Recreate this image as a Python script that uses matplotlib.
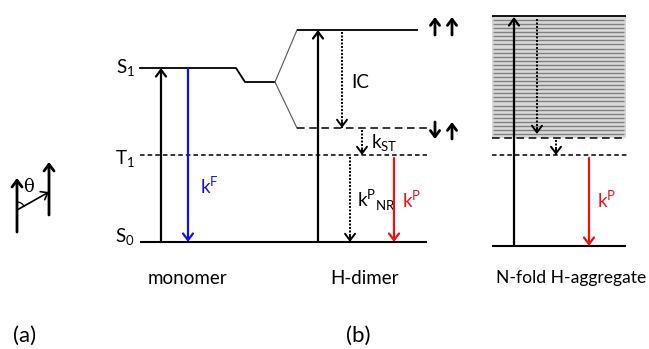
import numpy as np
import matplotlib.pyplot as plt

plt.rcParams['font.family'] = ['Lato', 'DejaVu Sans']

# level heights in picture units (y grows downward)
s0_y = 242
t1_y = 155
s1_y = 68
dimer_upper_y = 30
dimer_lower_y = 128
agg_top_y = 16
agg_bottom_y = 138
agg_t1_y = 155
agg_s0_y = 246

# x ranges of the three panels
mono_x = [140, 236]
dimer_x = [297, 427]
agg_x = [492, 626]

# the band of exciton states in the aggregate
n_band = 29
band_lines = np.linspace(20, 134, n_band)

panel_labels = ['monomer', 'H-dimer', 'N-fold H-aggregate']
panel_label_x = [187, 365, 571]
panel_label_fs = [13.5, 13.5, 12.6]

fig = plt.figure(figsize=(6.49, 3.49), dpi=100)
ax = fig.add_axes([0, 0, 1, 1])
ax.set_xlim(0, 649)
ax.set_ylim(349, 0)
ax.axis('off')

FS = 13.5


def arrow(x, y0, y1, color='black', lw=1.6, dotted=False, ms=12):
    style = '->,head_length=0.4,head_width=0.3'
    if dotted:
        ax.plot([x, x], [y0, y1], color=color, lw=lw, linestyle=(0, (1, 0.8)))
        step = 6 if y1 > y0 else -6
        ax.annotate('', xy=(x, y1), xytext=(x, y1 - step),
                    arrowprops=dict(arrowstyle=style, color=color, lw=lw,
                                    shrinkA=0, shrinkB=0, mutation_scale=ms))
    else:
        ax.annotate('', xy=(x, y1), xytext=(x, y0),
                    arrowprops=dict(arrowstyle=style, color=color, lw=lw,
                                    shrinkA=0, shrinkB=0, mutation_scale=ms))


def level(x0, x1, y, style='-', lw=1.3, color='black'):
    ax.plot([x0, x1], [y, y], color=color, lw=lw, linestyle=style,
            solid_capstyle='butt')


# --- monomer + dimer shared levels
level(mono_x[0], 427, s0_y, lw=1.5)
level(mono_x[0], 427, t1_y, style=(0, (3, 2)), lw=1.1)
ax.plot([mono_x[0], 236, 245, 275], [s1_y, s1_y, 82, 82], color='black', lw=1.3)
ax.plot([275, dimer_x[0]], [82, dimer_upper_y], color='#555555', lw=0.8)
ax.plot([275, dimer_x[0]], [82, dimer_lower_y], color='#555555', lw=0.8)
level(dimer_x[0], 418, dimer_upper_y, lw=1.3)
level(dimer_x[0], 427, dimer_lower_y, style=(0, (5, 3)), lw=1.1)

ax.text(135, s1_y, 'S$_\\mathregular{1}$', ha='right', va='center', fontsize=FS)
ax.text(135, t1_y + 4, 'T$_\\mathregular{1}$', ha='right', va='center', fontsize=FS)
ax.text(135, s0_y - 5, 'S$_\\mathregular{0}$', ha='right', va='center', fontsize=FS)

arrow(161, s0_y, s1_y)
arrow(188, s1_y, s0_y, color='#1010ee')
ax.text(200, 186, 'k$^\\mathregular{F}$', color='#1010ee', fontsize=FS, va='center')

# dimer transitions
arrow(318, s0_y, dimer_upper_y)
arrow(342, dimer_upper_y + 2, dimer_lower_y, dotted=True, lw=1.4)
ax.text(351, 83, 'IC', fontsize=FS, va='center')
arrow(362, dimer_lower_y + 2, t1_y, dotted=True, lw=1.4)
ax.text(371, 143, 'k$_\\mathregular{ST}$', fontsize=FS, va='center')
arrow(350, t1_y + 2, s0_y, dotted=True, lw=1.4)
ax.text(357, 200, 'k$^\\mathregular{P}$$_\\mathregular{NR}$', fontsize=FS, va='center')
arrow(394, t1_y + 3, s0_y, color='#ee1111')
ax.text(402, 200, 'k$^\\mathregular{P}$', color='#ee1111', fontsize=FS, va='center')

# spin symbols
arrow(435, 35, 17, lw=2.0, ms=11)
arrow(452, 35, 17, lw=2.0, ms=11)
arrow(435, 122, 139, lw=2.0, ms=11)
arrow(452, 139, 122, lw=2.0, ms=11)

# --- aggregate
ax.add_patch(plt.Rectangle((agg_x[0], agg_top_y), agg_x[1] - agg_x[0],
                           agg_bottom_y - agg_top_y, facecolor='#d9d9d9',
                           edgecolor='none'))
for y in band_lines:
    level(agg_x[0] + 1, agg_x[1] - 2, y, lw=1.0, color='#7f7f7f')
level(agg_x[0], agg_x[1], agg_top_y, lw=1.3)
level(agg_x[0], agg_x[1], agg_bottom_y, style=(0, (5, 3)), lw=1.1)
level(agg_x[0], 628, agg_t1_y, style=(0, (3, 2)), lw=1.1)
level(agg_x[0], agg_x[1], agg_s0_y, lw=1.5)

arrow(514, agg_s0_y, agg_top_y + 1)
arrow(537, agg_top_y + 3, agg_bottom_y - 4, dotted=True, lw=1.4)
arrow(556, agg_bottom_y + 2, agg_t1_y, dotted=True, lw=1.4)
arrow(589, agg_t1_y + 3, agg_s0_y, color='#ee1111')
ax.text(597, 200, 'k$^\\mathregular{P}$', color='#ee1111', fontsize=FS, va='center')

for lab, lx, fs in zip(panel_labels, panel_label_x, panel_label_fs):
    ax.text(lx, 278, lab, ha='center', va='center', fontsize=fs)

ax.text(25, 336, '(a)', ha='center', va='center', fontsize=16)
ax.text(358, 336, '(b)', ha='center', va='center', fontsize=16)

# --- theta sketch of two dipoles
arrow(17, 232, 178, lw=2.0)
arrow(49, 215, 162, lw=2.0)
ax.annotate('', xy=(49, 192), xytext=(17, 210),
            arrowprops=dict(arrowstyle='->,head_length=0.4,head_width=0.3',
                            color='black', lw=1.2,
                            shrinkA=0, shrinkB=0, mutation_scale=11))
ang = np.linspace(np.pi / 2, np.arctan2(18, 32), 20)
ax.plot(17 + 8 * np.cos(ang), 210 - 8 * np.sin(ang), color='black', lw=0.9)
ax.text(28, 187, 'θ', family=['DejaVu Serif'], fontsize=13, ha='center', va='center')

fig.savefig('out.png', dpi=100)
